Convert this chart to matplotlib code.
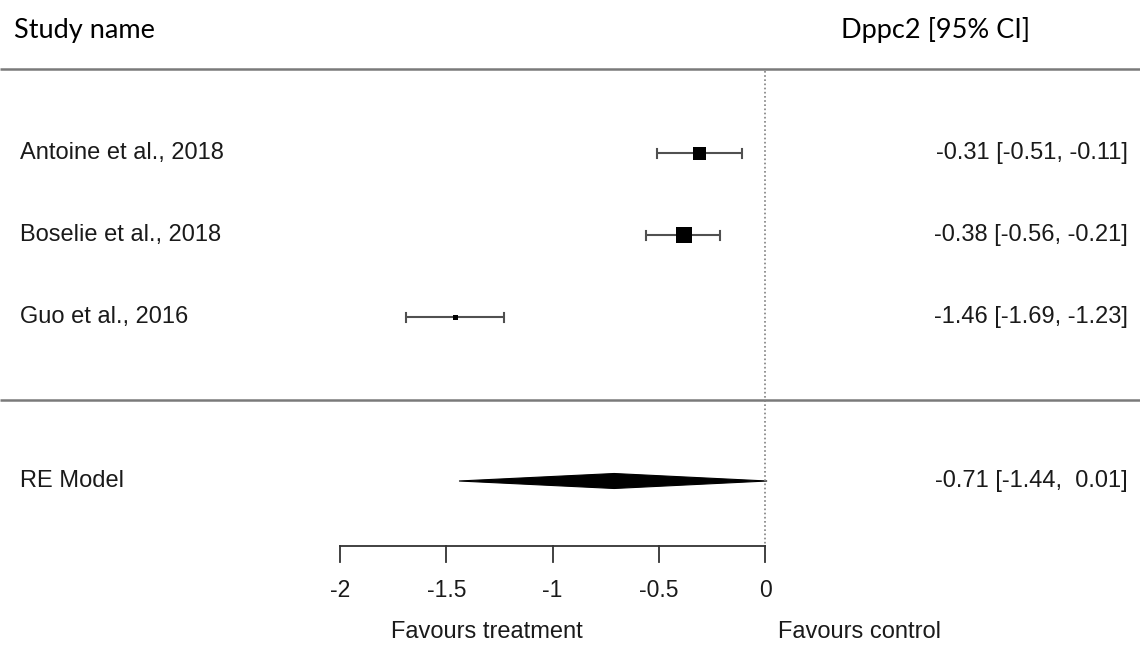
import matplotlib
matplotlib.use("Agg")
import matplotlib.pyplot as plt
from matplotlib.patches import Polygon

# Study-level estimates (standardised mean differences) and 95% CIs
studies = ["Antoine et al., 2018", "Boselie et al., 2018", "Guo et al., 2016"]
estimates = [-0.31, -0.38, -1.46]
ci_lower = [-0.51, -0.56, -1.69]
ci_upper = [-0.11, -0.21, -1.23]

# Random-effects pooled estimate
pooled_label = "RE Model"
pooled_est = -0.71
pooled_lower = -1.44
pooled_upper = 0.01

x_ticks = [-2, -1.5, -1, -0.5, 0]
x_tick_labels = ["-2", "-1.5", "-1", "-0.5", "0"]

# Square side lengths in pixels (proportional to study weight)
box_px = [13, 16, 5]

W, H, DPI = 1140, 646, 100
fig = plt.figure(figsize=(W / DPI, H / DPI), dpi=DPI)
ax = fig.add_axes([0, 0, 1, 1])
ax.set_axis_off()

# horizontal scale: 212.5 px per unit, zero at x=765 px
PX_PER_UNIT = 212.5
ZERO_PX = 765
ax.set_xlim(-ZERO_PX / PX_PER_UNIT, (W - ZERO_PX) / PX_PER_UNIT)
# vertical scale in row units: row 1 at y=153 px, 82 px per row
ROW_PX = 82
ax.set_ylim(1 + (H - 153) / ROW_PX, 1 - 153 / ROW_PX)


def px2x(px):
    return (px - ZERO_PX) / PX_PER_UNIT


def px2y(py):
    return 1 + (py - 153) / ROW_PX


body_font = ["Liberation Sans", "DejaVu Sans"]
head_font = ["Lato", "Open Sans", "DejaVu Sans"]
fs = 17
txt_col = "#1a1a1a"
base_off = 6 / ROW_PX  # baseline sits a few px below the row centre

# Header
ax.text(px2x(14), px2y(38), "Study name", fontsize=19.5, family=head_font,
        ha="left", va="baseline", color="black")
ax.text(px2x(841), px2y(38), "Dppc2 [95% CI]", fontsize=19.5, family=head_font,
        ha="left", va="baseline", color="black")

# Horizontal separators
for yy in (px2y(69), px2y(400)):
    ax.plot([px2x(0), px2x(W)], [yy, yy], color="#7a7a7a", lw=1.8,
            solid_capstyle="butt")

# Reference line at zero
ax.plot([0, 0], [px2y(71), px2y(546)], color="#808080", lw=1.2,
        linestyle=(0, (1, 1.5)))

# Study rows
rows = [1, 2, 3]
cap_half = 4.5 / ROW_PX
for r, name, est, lo, hi, bp in zip(rows, studies, estimates, ci_lower,
                                     ci_upper, box_px):
    ax.plot([lo, hi], [r, r], color="#505050", lw=1.5, solid_capstyle="butt")
    for xe in (lo, hi):
        ax.plot([xe, xe], [r - cap_half, r + cap_half], color="#505050", lw=1.5)
    ax.plot([est], [r], marker="s", color="black", markersize=bp * 72 / DPI,
            markeredgewidth=0)
    ax.text(px2x(20), r + base_off, name, fontsize=fs, family=body_font,
            ha="left", va="baseline", color=txt_col)
    ax.text(px2x(1128), r + base_off, f"{est:.2f} [{lo:.2f}, {hi:.2f}]",
            fontsize=fs, family=body_font, ha="right", va="baseline",
            color=txt_col)

# Pooled diamond
re_row = 5
dh = 7.5 / ROW_PX
diamond = Polygon([[pooled_lower, re_row], [pooled_est, re_row - dh],
                   [pooled_upper, re_row], [pooled_est, re_row + dh]],
                  closed=True, facecolor="black", edgecolor="black", lw=0.8)
ax.add_patch(diamond)
ax.text(px2x(20), re_row + base_off, pooled_label, fontsize=fs,
        family=body_font, ha="left", va="baseline", color=txt_col)
ax.text(px2x(1128), re_row + base_off,
        f"{pooled_est:.2f} [{pooled_lower:.2f}, {pooled_upper:5.2f}]",
        fontsize=fs, family=body_font, ha="right", va="baseline",
        color=txt_col)

# Bottom x axis
axis_y = px2y(546)
tick_len = 16 / ROW_PX
ax.plot([x_ticks[0], x_ticks[-1]], [axis_y, axis_y], color="#333333", lw=1.3)
for t, lab in zip(x_ticks, x_tick_labels):
    ax.plot([t, t], [axis_y, axis_y + tick_len], color="#333333", lw=1.3)
    ax.text(t, px2y(597), lab, fontsize=16.5, family=body_font, ha="center",
            va="baseline", color=txt_col)

ax.text(px2x(487), px2y(638), "Favours treatment", fontsize=fs,
        family=body_font, ha="center", va="baseline", color=txt_col)
ax.text(px2x(859), px2y(638), "Favours control", fontsize=fs,
        family=body_font, ha="center", va="baseline", color=txt_col)

fig.savefig("out.png", dpi=DPI, facecolor="white")
